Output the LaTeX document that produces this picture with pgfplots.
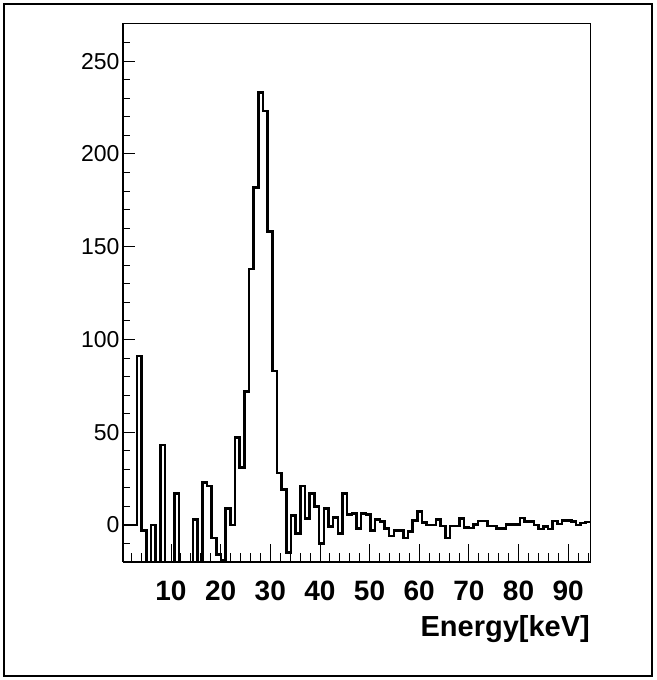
\documentclass[border=0pt]{standalone}
\usepackage{pgfplots}
\usepackage{pgfplotstable}
\pgfplotsset{compat=1.18}
\usepackage{fontspec}
\setmainfont{Liberation Sans}

\pgfplotstableread{
x y
0.34 0
1.28 0
2.22 0
3.16 91
4.10 -3
5.04 -30
5.98 0
6.92 -30
7.86 43
8.81 -30
9.75 -30
10.69 17
11.63 -30
12.57 -30
13.51 -30
14.45 3
15.39 -30
16.33 23
17.27 21
18.21 -7
19.15 -16
20.09 -19
21.03 9
21.97 0
22.91 47
23.86 31
24.80 72
25.74 138
26.68 182
27.62 233
28.56 223
29.50 158
30.44 83
31.38 28
32.32 19
33.26 -15
34.20 5
35.14 -4.5
36.08 21
37.02 3.6
37.96 17
38.90 10
39.85 -10
40.79 9
41.73 -1
42.67 4
43.61 -4.5
44.55 17
45.49 5.5
46.43 6.3
47.37 -2
48.31 6
49.25 5.5
50.19 -3
51.13 3
52.07 1.8
53.01 -1.8
53.95 -6
54.89 -3
55.84 -3
56.78 -7
57.72 -3.5
58.66 2.3
59.60 7.2
60.54 1.3
61.48 0
62.42 0
63.36 3
64.30 -0.5
65.24 -7
66.18 -0.5
67.12 -0.5
68.06 3.6
69.00 -1.3
69.94 -1.6
70.89 0.3
71.83 2
72.77 2
73.71 -0.7
74.65 -0.7
75.59 -2
76.53 -2
77.47 0.3
78.41 0.3
79.35 0.3
80.29 3.8
81.23 1.8
82.17 1.8
83.11 0
84.05 -2.2
84.99 -0.9
85.93 -2.2
86.88 2.2
87.82 0.4
88.76 2.5
89.70 2.5
90.64 1.8
91.58 0
92.52 1
93.46 1.5
94.40 1.5
}\histdata

\begin{document}
\begin{tikzpicture}
\path[use as bounding box] (-123pt,-118pt) rectangle (533pt,562pt);
\draw[line width=1.5pt] (-119pt,-114pt) rectangle (529pt,558pt);
% y ticks axis
\begin{axis}[
  scale only axis, width=467pt, height=538pt,
  xmin=0.34, xmax=94.4, ymin=-20, ymax=270,
  xtick=\empty,
  ytick={0,50,...,250},
  minor ytick={-10,10,20,30,40,60,70,80,90,110,120,130,140,160,170,180,190,210,220,230,240,260},
  ytick pos=left, tick align=inside,
  major tick length=12pt, minor tick length=7pt,
  axis line style={line width=1pt},
  every tick/.style={black, line width=0.8pt},
  /pgf/number format/assume math mode=true,
  yticklabel style={font=\fontsize{23}{26}\selectfont, xshift=0pt},
]
\end{axis}
% x ticks axis with histogram
\begin{axis}[
  scale only axis, width=467pt, height=538pt,
  xmin=0.34, xmax=94.4, ymin=-20, ymax=270,
  ytick=\empty,
  xtick={10,20,...,90},
  minor xtick={2,4,6,8,12,14,16,18,22,24,26,28,32,34,36,38,42,44,46,48,52,54,56,58,62,64,66,68,72,74,76,78,82,84,86,88,92,94},
  xtick pos=bottom, tick align=inside,
  major tick length=18pt, minor tick length=9pt,
  axis line style={line width=1pt},
  every tick/.style={black, line width=0.8pt},
  /pgf/number format/assume math mode=true,
  xticklabel style={font=\fontsize{28}{32}\selectfont\bfseries, yshift=-15pt},
  xlabel={Energy[keV]},
  xlabel style={font=\fontsize{29}{33}\selectfont\bfseries, at={(axis description cs:1,0)}, anchor=base east, yshift=-74pt, inner sep=0pt},
]
\addplot[const plot, black, line width=2.6pt] table[x=x,y=y]{\histdata};
\end{axis}
\end{tikzpicture}
\end{document}
